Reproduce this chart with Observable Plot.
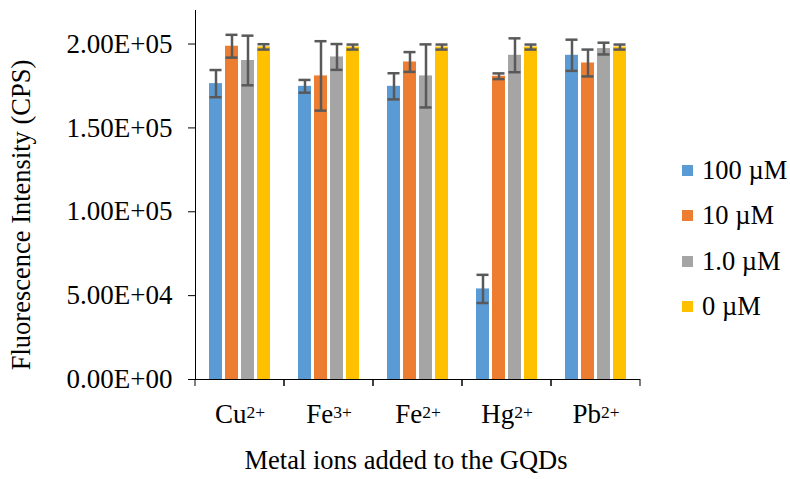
<!DOCTYPE html>
<html>
<head>
<meta charset="utf-8">
<script src="https://cdn.jsdelivr.net/npm/d3@7"></script>
<script src="https://cdn.jsdelivr.net/npm/@observablehq/plot@0.6"></script>
<style>
  html, body { margin: 0; padding: 0; background: #fff; }
  #wrap { position: relative; width: 790px; height: 479px; font-family: "Liberation Serif", "Times New Roman", serif; }
  #legend { position: absolute; left: 682px; top: 148px; font-size: 26.5px; color: #000; }
  #legend .row { display: flex; align-items: center; height: 45.3px; }
  #legend .sw { width: 11px; height: 11px; margin-right: 9px; }
</style>
</head>
<body>
<div id="wrap"></div>
<script>
// ---- data ----
const categories = ["Cu2+", "Fe3+", "Fe2+", "Hg2+", "Pb2+"];
const series = ["100 µM", "10 µM", "1.0 µM", "0 µM"];
const colors = ["#5B9BD5", "#ED7D31", "#A5A5A5", "#FFC000"];

const values100 = [176400, 174800, 174800, 54000, 193300];
const values10  = [198700, 181000, 189300, 180800, 188700];
const values1   = [190200, 192300, 181000, 193300, 197300];
const values0   = [198300, 198200, 198200, 198200, 198200];

const err100 = [8100, 3800, 7800, 8400, 9300];
const err10  = [6800, 20700, 5900, 1700, 8000];
const err1   = [14800, 7700, 18800, 10100, 3500];
const err0   = [1600, 1500, 1500, 1500, 1500];

const yTicks = [0, 50000, 100000, 150000, 200000];
const yTickLabels = ["0.00E+00", "5.00E+04", "1.00E+05", "1.50E+05", "2.00E+05"];
const xTitle = "Metal ions added to the GQDs";
const yTitle = "Fluorescence Intensity (CPS)";

// ---- table ----
const allValues = [values100, values10, values1, values0];
const allErrs = [err100, err10, err1, err0];
const rows = categories.flatMap((c, i) => series.map((s, j) => ({
  category: c, series: s, value: allValues[j][i], err: allErrs[j][i]
})));

const font = "'Liberation Serif', 'Times New Roman', serif";

// category boundary ticks (drawn at each facet's edges)
function boundaryTicks(index, scales, values, dims) {
  const g = d3.create("svg:g");
  const b = dims.height - dims.marginBottom;
  for (const x of [dims.marginLeft, dims.width - dims.marginRight]) {
    g.append("line").attr("x1", x).attr("x2", x).attr("y1", b).attr("y2", b + 7)
      .attr("stroke", "#000").attr("stroke-width", 1);
  }
  return g.node();
}

const chart = Plot.plot({
  width: 790,
  height: 479,
  marginLeft: 195,
  marginRight: 150,
  marginTop: 10,
  marginBottom: 100,
  style: { fontFamily: font, fontSize: "27px", color: "#000", background: "white", overflow: "visible" },
  fx: { domain: categories, paddingInner: 0, paddingOuter: 0 },
  x: { domain: series, paddingInner: 0.2, paddingOuter: 0.83, axis: null },
  y: { domain: [0, 220000] },
  color: { domain: series, range: colors },
  marks: [
    Plot.barY(rows, { fx: "category", x: "series", y: "value", fill: "series" }),
    Plot.ruleX(rows, { fx: "category", x: "series", y1: d => d.value - d.err, y2: d => d.value + d.err, stroke: "#595959", strokeWidth: 2.5 }),
    Plot.tickY(rows, { fx: "category", x: "series", y: d => d.value + d.err, stroke: "#595959", strokeWidth: 2.5, insetLeft: 0.5, insetRight: 0.5 }),
    Plot.tickY(rows, { fx: "category", x: "series", y: d => d.value - d.err, stroke: "#595959", strokeWidth: 2.5, insetLeft: 0.5, insetRight: 0.5 }),
    Plot.ruleY([0], { stroke: "#000", strokeWidth: 1 }),
    Plot.frame({ anchor: "left", facetAnchor: "left", stroke: "#000", strokeWidth: 1 }),
    boundaryTicks,
    Plot.axisY({ ticks: yTicks, tickFormat: (d) => yTickLabels[yTicks.indexOf(d)], tickSize: 7, tickPadding: 16, label: null, fontSize: 27, stroke: "#000" }),
    Plot.axisFx({ anchor: "bottom", tickSize: 0, tickPadding: 24, label: null, fontSize: 27 }),
    Plot.text([xTitle], { frameAnchor: "bottom", dx: -12, dy: 89, facet: "super", fontSize: 26.5, fill: "#000" }),
    Plot.text([yTitle], { frameAnchor: "left", textAnchor: "middle", rotate: -90, dx: -174, dy: 20, facet: "super", fontSize: 26.5, fill: "#000" })
  ]
});

document.getElementById("wrap").appendChild(chart);

// superscripts for ion charges
d3.select(chart).selectAll('g[aria-label="fx-axis tick label"] text').each(function () {
  const t = this.textContent;
  const m = t.match(/^([A-Za-z]+)(\d\+)$/);
  if (!m) return;
  const el = d3.select(this);
  el.text(null);
  el.append("tspan").text(m[1]);
  el.append("tspan").attr("font-size", "17.5px").attr("dy", "-5").text(m[2]);
});

// legend
const legend = d3.select("#wrap").append("div").attr("id", "legend");
series.forEach((s, i) => {
  const r = legend.append("div").attr("class", "row");
  r.append("div").attr("class", "sw").style("background", colors[i]);
  r.append("span").text(s);
});
</script>
</body>
</html>
